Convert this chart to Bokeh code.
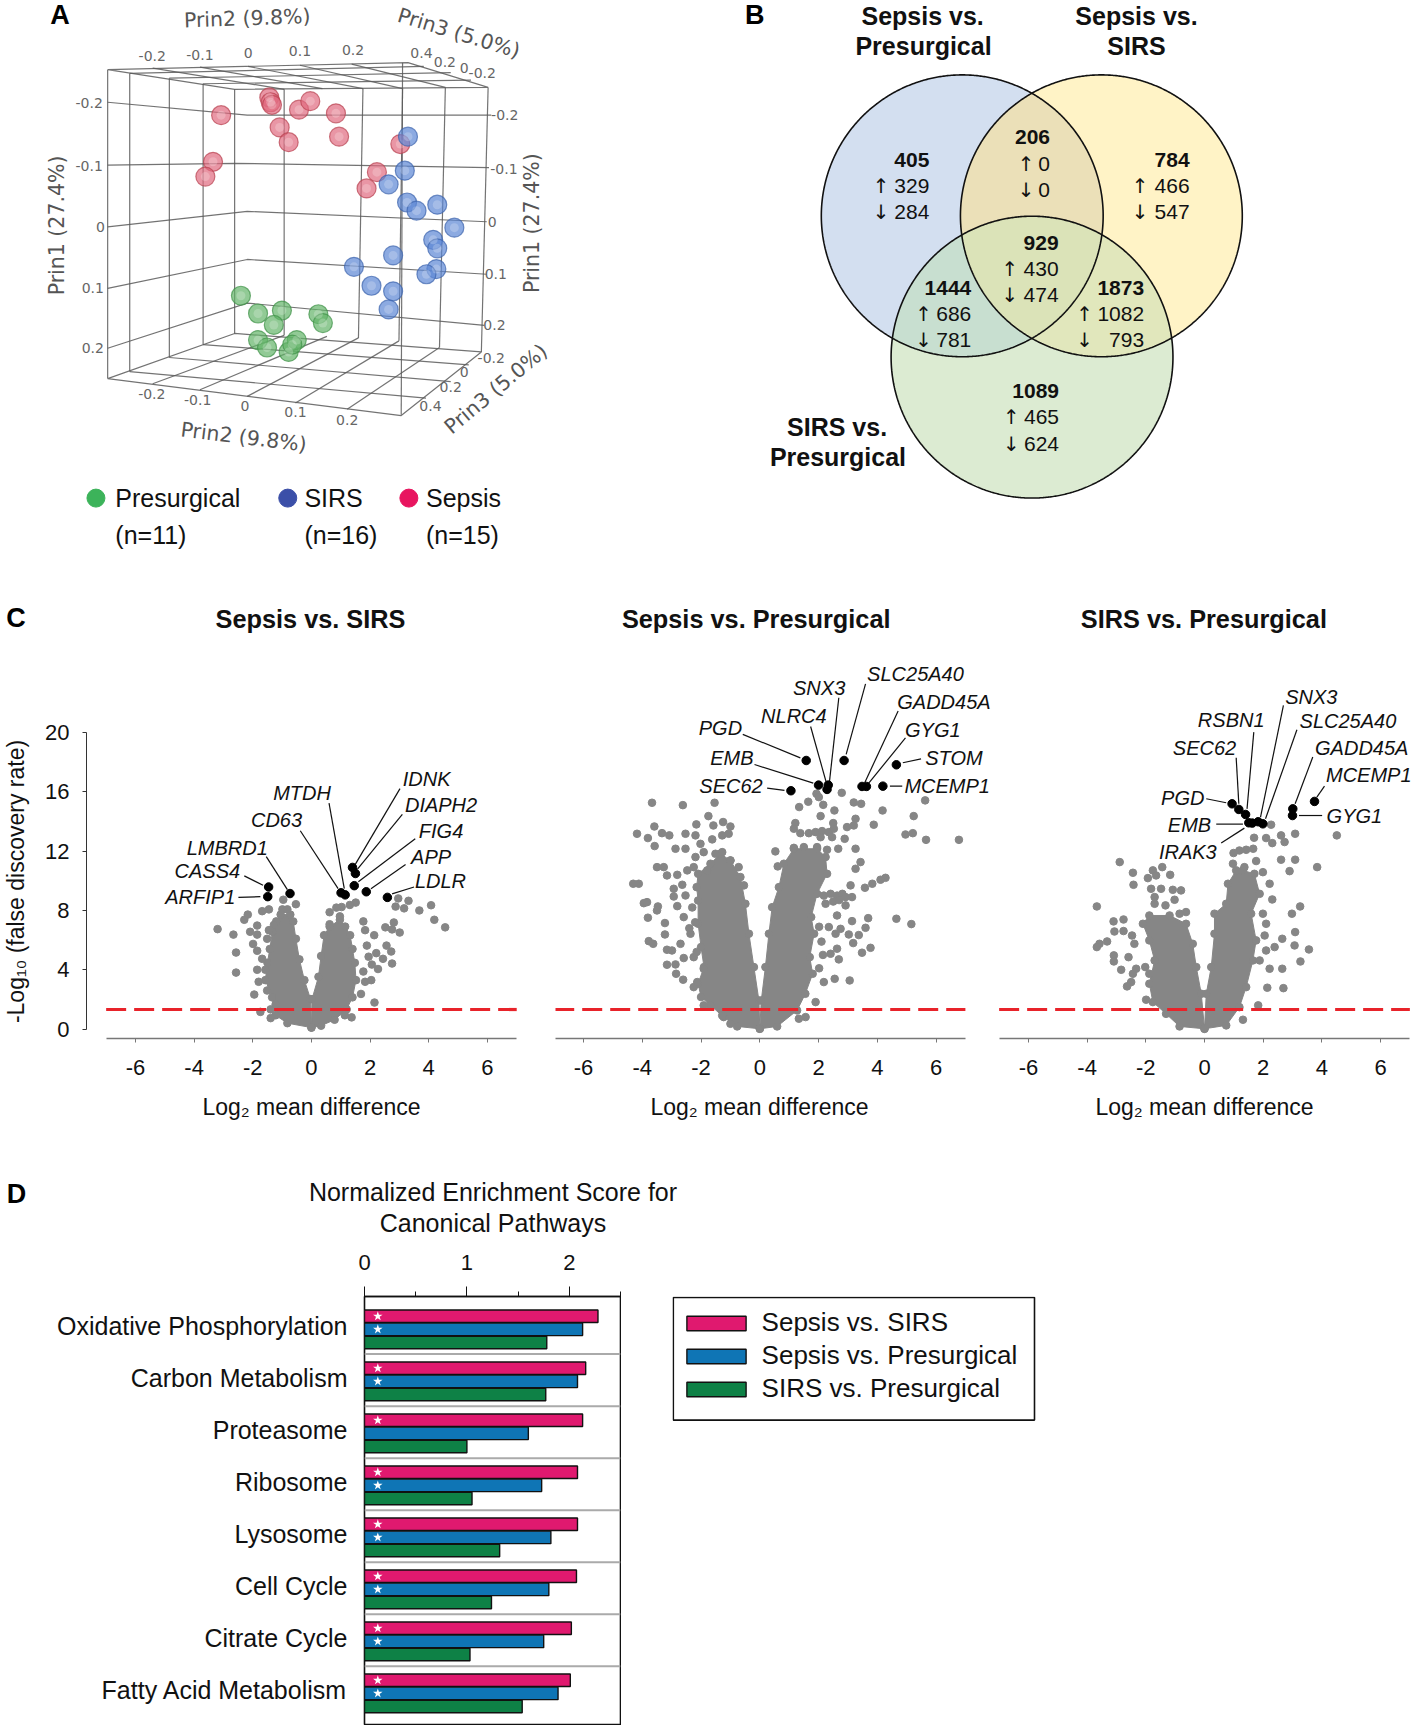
from bokeh.plotting import figure
from bokeh.layouts import column, row
from bokeh.models import Range1d, FixedTicker, Legend, LegendItem
from bokeh.core.properties import value
from bokeh.embed import file_html
from bokeh.resources import INLINE
import numpy as np

FONT = "Liberation Sans"

# ---------------- Panel A: values digitised on a 2.221 x 2.703 picture grid
sepsis_x = [490, 597, 600, 603, 663, 688, 745, 620, 640, 752, 472, 455, 836, 813, 888]
sepsis_y = [310, 262, 275, 282, 295, 272, 305, 343, 383, 368, 436, 476, 464, 508, 388]
sirs_x = [905, 898, 862, 903, 924, 970, 1008, 961, 970, 872, 785, 968, 946, 824, 872, 862]
sirs_y = [368, 460, 497, 546, 568, 552, 614, 647, 670, 689, 720, 726, 740, 771, 786, 835]
pres_x = [534, 572, 625, 607, 706, 716, 572, 592, 640, 658, 648]
pres_y = [798, 846, 838, 877, 848, 872, 918, 938, 950, 918, 930]

grid_xs = [
    [238, 905, 1083, 520, 238], [238, 238], [287, 287], [375, 375], [450, 450], [520, 520],
    [1083, 1068], [630, 630], [805, 795], [893, 885], [988, 975], [893, 890],
    [238, 890, 1068, 520, 238],
    [238, 548, 1090], [238, 520, 1085], [238, 548, 1080], [238, 548, 1080], [238, 548, 1075],
    [338, 630], [443, 715], [550, 805], [665, 893], [780, 988],
    [287, 940], [375, 1000], [450, 1045],
    [338, 630], [443, 725], [548, 795], [655, 885], [770, 975],
    [287, 945], [375, 1000], [450, 1040],
]
grid_ys = [
    [187, 168, 235, 240, 187], [187, 1022], [197, 1003], [210, 965], [225, 930], [240, 900],
    [235, 950], [240, 905], [238, 912], [238, 920], [235, 938], [168, 1120],
    [1022, 1122, 950, 900, 1022],
    [275, 310, 310], [445, 440, 452], [612, 570, 598], [778, 700, 740], [940, 818, 878],
    [183, 240], [180, 238], [178, 238], [175, 238], [172, 235],
    [197, 178], [210, 195], [225, 215],
    [1036, 905], [1052, 908], [1070, 912], [1088, 920], [1105, 938],
    [1003, 1075], [965, 1030], [930, 985],
]
tick_text = ["-0.2", "-0.1", "0", "0.1", "0.2", "0.4", "0.2", "0", "-0.2",
             "-0.2", "-0.1", "0", "0.1", "0.2",
             "-0.2", "-0.1", "0", "0.1", "0.2",
             "-0.2", "-0.1", "0", "0.1", "0.2",
             "-0.2", "0", "0.2", "0.4"]
tick_x = [337, 443, 550, 665, 783, 935, 987, 1030, 1070,
          197, 197, 222, 205, 205,
          1120, 1118, 1092, 1100, 1097,
          336, 438, 543, 655, 770,
          1090, 1030, 1000, 955]
tick_y = [150, 147, 143, 137, 133, 143, 165, 182, 197,
          277, 447, 612, 778, 940,
          310, 455, 598, 740, 878,
          1063, 1080, 1095, 1113, 1133,
          965, 1003, 1045, 1097]
prin_text = ["Prin2 (9.8%)", "Prin3 (5.0%)", "Prin1 (27.4%)", "Prin1 (27.4%)", "Prin2 (9.8%)", "Prin3 (5.0%)"]
prin_x = [548, 1018, 125, 1180, 540, 1100]
prin_y = [48, 88, 608, 602, 1180, 1050]
prin_deg = [2, -17, 90, 90, -7, 40]
group_names = ["Presurgical", "SIRS", "Sepsis"]
group_counts = ["(n=11)", "(n=16)", "(n=15)"]
group_colors = ["#3cb35a", "#3b4fa8", "#e8155f"]
group_dot_x = [212, 638, 907]
group_text_x = [255, 675, 945]

# ---------------- Panel B
venn_titles = ["Sepsis vs.", "Presurgical", "Sepsis vs.", "SIRS", "SIRS vs.", "Presurgical"]
venn_title_x = [480, 482, 955, 955, 290, 292]
venn_title_y = [42, 123, 42, 123, 1152, 1233]
venn_cx = [568, 877, 723]
venn_cy = [582, 582, 964]
venn_total = ["405", "206", "784", "929", "1444", "1873", "1089"]
venn_up = ["329", "0", "466", "430", "686", "1082", "465"]
venn_down = ["284", "0", "547", "474", "781", "793", "624"]
venn_right = [495, 763, 1073, 782, 588, 972, 783]
venn_arrow = [388, 710, 963, 674, 482, 840, 677]
venn_row = [430, 370, 430, 655, 777, 777, 1056]
venn_base_colors = ["#d3dff0", "#fff3c6", "#dcebd2"]
venn_overlaps = [((0, 1), "#ebe0b8"), ((0, 2), "#c8dfd0"), ((1, 2), "#e1e7bc"), ((0, 1, 2), "#dbe3b8")]

# ---------------- Panel C: Sepsis vs. SIRS
c1_gray_x = [2.96, 2.87, 3.16, 3.31, 3.68, 4.08, 4.19, 4.56, 2.52, 2.81, 2.75, 3.01, 2.14, 2.56, 2.72, 2.75, 2.44, 2.21,
             1.89, 1.95, 2.06, 2.27, 1.77, 1.83, 2.04, 2.15, 1.77, 1.83, 1.51, 1.31, 1.03, .85, .62, .97, .62, 1.69, 1.37, 1.14,
             -3.2, -2.66, -2.57, -2.57, -2.17, -2.29, -2.09, -1.85, -1.85, -1.99, -1.85, -1.68, -1.85, -1.57, -1.8, -1.95,
             -1.51, -1.74, -1.39, -.96, -.53, -1.68, -1.45, -.99, -.82, -1.28, -1.45, -1.51, -1.39, -1.22]
c1_gray_y = [8.81, 8.26, 8.14, 8.65, 8.0, 8.35, 7.37, 6.86, 6.86, 7.19, 6.72, 6.51, 6.33, 5.63, 5.23, 4.42, 4.74, 5.12,
             5.63, 4.88, 4.35, 4.05, 3.88, 3.19, 3.3, 1.79, 7.26, 6.67, 8.53, 8.37, 8.23, 8.19, 7.88, 7.6, 7.07, 2.37, .79, .93,
             6.74, 6.37, 5.16, 3.81, 7.72, 7.37, 6.56, 6.98, 6.37, 5.74, 5.28, 4.74, 4.0, 4.0, 3.19, 2.33,
             2.6, 1.16, .74, 8.72, 8.42, 7.95, 8.07, 8.07, 8.07, 7.02, 6.67, 6.09, 1.33, 1.67]
c1_left_x = [0, -.82, -1.22, -1.34, -1.57, -1.5, -1.42, -1.33, -1.2, -1.05, -.72, -.62, -.53, -.41, -.24, -.03]
c1_left_y = [.1, .4, .93, 2.14, 3.3, 4.47, 5.4, 6.56, 7.26, 7.72, 7.72, 7.26, 6.09, 4.7, 3.3, 2.02]
c1_right_x = [.02, .24, .33, .43, .62, .97, 1.15, 1.32, 1.4, 1.48, 1.52, 1.4, 1.2, .79, .33, 0]
c1_right_y = [2.02, 3.53, 4.93, 6.33, 6.91, 7.37, 6.91, 6.33, 5.4, 4.47, 3.3, 2.14, 1.33, .63, .23, .1]
c1_genes = ["ARFIP1", "CASS4", "LMBRD1", "CD63", "MTDH", "IDNK", "DIAPH2", "FIG4", "APP", "LDLR"]
c1_gene_x = [-1.49, -1.46, -.73, 1.01, 1.15, 1.40, 1.5, 1.46, 1.87, 2.59]
c1_gene_y = [8.93, 9.58, 9.14, 9.19, 9.05, 10.9, 10.49, 9.67, 9.26, 8.88]
c1_label_x = [-3.79, -3.55, -2.87, -1.19, -.32, 3.93, 4.42, 4.42, 4.08, 4.4]
c1_label_y = [8.93, 10.63, 12.23, 14.09, 15.93, 16.84, 15.12, 13.37, 11.63, 10.0]
c1_lead_x0 = [-2.49, -2.29, -1.54, -.38, .6, 3.02, 3.1, 3.54, 3.21, 3.5]
c1_lead_y0 = [8.88, 10.33, 11.63, 13.37, 15.23, 16.21, 14.47, 12.84, 11.09, 9.58]
c1_lead_x1 = [-1.74, -1.65, -.82, .91, 1.12, 1.49, 1.57, 1.6, 2.03, 2.75]
c1_lead_y1 = [8.93, 9.7, 9.4, 9.47, 9.47, 11.09, 10.79, 9.93, 9.47, 9.12]

# ---------------- Panel C: Sepsis vs. Presurgical
c2_gray_x = [2.79, 1.93, 2.01, 2.16, 1.65, 1.34, 2.54, 2.07, 3.2, 3.45, 4.18, 5.63, 5.24, 3.88, 3.26, 3.2, 2.97, 2.5, 1.21,
             4.96, 5.21, 5.66, 6.78, 2.89, 3.26, 2.67, 3.43, 3.26, 4.28, 4.11, 3.83, 3.58, .53, .61, 3.09, 3.14, 2.92, 3.69,
             4.65, 5.16, 3.14, 3.6, 3.37, 3.03, 2.75, 3.18, 3.77, 3.48, 2.63, 2.41, 2.69, 3.06, 2.55, 2.18, 1.9, 1.56, 1.33,
             2.63, 2.35, 2.58, 1.16, 1.38, 1.67, 1.9, 2.12, 2.35, 2.52, 2.46, 2.07, 1.16, 1.5, 1.95, 2.29,
             2.41, 2.63, 2.81, 2.92, 2.5, 2.7, 2.18, 2.24, 2.02, 2.1, 2.15, 2.02,
             -3.67, -2.62, -1.54, -1.75, -3.59, -1.58, -2.16, -1.25, -1.0, -1.06, -1.28, -1.62, -4.18, -3.81, -3.33, -3.08,
             -2.53, -3.58, -2.87, -2.53, -2.19, -2.02, -1.91, -2.19, -3.5, -3.27, -3.16, -2.81, -4.31, -4.12, -2.93, -2.93,
             -2.64, -2.53, -3.95, -3.84, -3.47, -3.5, -3.81, -3.23, -3.23, -2.81, -2.59, -3.78, -3.63, -3.16, -2.99, -3.16,
             -2.87, -2.59, -2.85, -2.61, -2.7, -2.36, -2.25, -1.91, -2.25, -2.13, -1.91, -1.28, -1.0, -2.47, -2.25, -1.79,
             -1.51, -1.28, -1.0, -.72, -.54, -2.3, -2.2, -2.4, -2.15]
c2_gray_y = [15.93, 15.87, 15.64, 15.12, 15.33, 14.97, 14.74, 14.36, 15.28, 15.19, 14.74, 15.42, 14.36, 13.78, 14.18, 13.73, 13.62, 13.89, 13.89,
             13.12, 13.21, 12.76, 12.76, 12.83, 12.16, 12.16, 11.26, 10.81, 10.2, 10.07, 9.8, 9.53, 11.98, 10.97, 9.69, 8.9, 8.34, 7.48,
             7.44, 7.08, 7.28, 6.83, 6.34, 6.38, 6.76, 5.8, 5.48, 5.15, 5.42, 5.08, 4.7, 3.28, 3.39, 3.17, 1.82, .81, .7,
             7.66, 6.88, 6.43, 13.51, 13.21, 13.21, 13.28, 13.35, 13.28, 13.51, 12.94, 12.94, 12.22, 12.27, 12.27, 12.09,
             9.12, 9.0, 9.12, 8.9, 8.6, 8.7, 9.0, 8.45, 6.9, 5.9, 5.0, 4.1,
             15.26, 15.1, 15.26, 14.36, 13.66, 13.73, 13.8, 13.96, 13.66, 13.17, 13.06, 12.79, 13.17, 12.88, 13.21, 13.06,
             13.17, 12.34, 12.16, 12.16, 13.06, 12.49, 11.93, 11.6, 10.92, 10.92, 10.36, 10.4, 9.8, 9.8, 9.46, 8.94,
             9.73, 9.01, 8.49, 8.56, 8.27, 8.0, 7.51, 7.15, 6.38, 8.29, 7.55, 5.93, 5.75, 5.35, 5.3, 4.34,
             4.36, 4.79, 3.73, 3.33, 5.75, 6.43, 4.85, 4.07, 2.83, 3.17, 1.6, .92, .36, 10.7, 10.92, 10.7,
             11.82, 11.93, 11.37, 10.92, 9.69, 8.2, 7.2, 6.8, 5.2]
c2_left_x = [0, -.77, -1.23, -1.68, -2.0, -2.1, -1.9, -2.0, -2.1, -2.1, -2.15, -2.1, -1.68, -1.34, -1.0, -.66, -.49, -.37, -.2, -.03]
c2_left_y = [.02, .18, .81, 1.6, 2.16, 3.06, 4.18, 5.53, 7.1, 8.67, 9.57, 10.47, 11.15, 11.82, 11.37, 10.25, 8.45, 6.43, 4.18, 1.93]
c2_right_x = [.05, .19, .31, .42, .65, .82, 1.16, 1.95, 2.24, 2.29, 1.95, 1.75, 1.85, 1.7, 1.8, 1.55, 1.27, .59, 0]
c2_right_y = [1.93, 4.18, 6.43, 8.22, 9.57, 11.15, 12.16, 12.16, 11.6, 10.47, 9.12, 7.55, 6.43, 4.85, 3.73, 2.38, 1.26, .18, .02]
c2_genes = ["PGD", "SLC25A40", "STOM", "EMB", "SNX3", "NLRC4", "GADD45A", "GYG1", "MCEMP1", "SEC62"]
c2_gene_x = [1.58, 2.87, 4.65, 2.0, 2.33, 2.29, 3.48, 3.63, 4.19, 1.06]
c2_gene_y = [18.11, 18.11, 17.82, 16.45, 16.45, 16.16, 16.36, 16.36, 16.38, 16.07]
c2_label_x = [-1.34, 5.3, 6.61, -.95, 2.02, 1.16, 6.27, 5.89, 6.38, -.98]
c2_label_y = [20.29, 23.91, 18.29, 18.29, 23.01, 21.08, 22.02, 20.18, 16.36, 16.36]
c2_lead_x0 = [-.58, 3.6, 5.49, -.18, 2.69, 1.73, 4.71, 4.96, 4.85, .25]
c2_lead_y0 = [19.87, 23.28, 18.22, 17.84, 22.34, 20.4, 21.44, 19.64, 16.38, 16.25]
c2_lead_x1 = [1.38, 2.94, 4.87, 1.82, 2.37, 2.26, 3.58, 3.71, 4.43, .84]
c2_lead_y1 = [18.29, 18.52, 17.96, 16.58, 16.65, 16.65, 16.65, 16.58, 16.38, 16.09]

# ---------------- Panel C: SIRS vs. Presurgical
c3_gray_x = [2.27, 3.09, 4.51, 2.61, 2.73, 2.1, 2.31, 1.69, 2.61, 3.09, 2.9, 3.84, 1.66, 1.42, 1.19, .99, 1.76, .97, 1.36,
             1.99, 2.22, 2.31, 3.26, 2.98, 3.09, 2.65, 3.07, 3.56, 2.39, 3.27, 2.65, 2.14, 2.69, 1.83, 1.31, 2.22, 2.1, 2.05,
             1.99, 2.1, 1.88,
             -2.89, -2.44, -2.42, -1.44, -1.76, -1.93, -1.65, -1.17, -1.82, -1.48, -1.08, -.8, -1.7, -1.02, -1.7, -1.33,
             -3.67, -3.1, -2.76, -3.07, -2.76, -3.32, -3.58, -3.67, -3.09, -3.09, -2.59, -2.84, -2.47, -2.39, -2.02, -2.33,
             -2.44, -2.5, -2.64, -1.88, -1.99, -.63, -.85]
c3_gray_y = [13.78, 13.17, 13.06, 13.06, 12.61, 12.88, 12.54, 12.9, 11.42, 11.42, 10.65, 10.92, 12.16, 12.09, 12.04, 11.87, 11.33, 11.15, 10.92,
             10.58, 9.8, 8.74, 8.27, 7.78, 6.54, 6.09, 5.64, 5.37, 5.53, 4.56, 4.07, 2.79, 2.76, 1.6, .63, 4.07, 7.1, 6.31,
             7.78, 5.3, 4.63,
             11.26, 10.54, 9.73, 10.92, 10.7, 10.18, 10.36, 10.4, 9.46, 9.46, 9.39, 9.35, 8.9, 8.72, 8.45, 8.34,
             8.27, 7.26, 7.39, 6.58, 6.61, 5.91, 5.75, 5.53, 4.97, 4.56, 4.85, 4.0, 6.31, 5.75, 4.18, 4.07,
             3.73, 3.17, 2.88, 3.73, 1.98, 7.89, 7.78]
c3_left_x = [0, -.85, -1.31, -1.76, -1.88, -1.7, -1.88, -2.1, -1.88, -1.19, -.63, -.4, -.28, -.11]
c3_left_y = [.02, .18, 1.03, 1.82, 3.06, 4.63, 5.98, 7.1, 7.66, 7.66, 7.1, 5.75, 4.18, 2.38]
c3_right_x = [.06, .23, .34, .34, .74, .8, 1.08, 1.31, 1.7, 1.88, 1.59, 1.76, 1.65, 1.42, 1.19, .74, 0]
c3_right_y = [2.38, 4.18, 6.43, 7.78, 8.45, 9.8, 10.7, 10.7, 10.47, 9.12, 7.78, 5.98, 4.63, 2.83, 1.48, .25, .02]
c3_genes = ["PGD", "SEC62", "RSBN1", "EMB", "IRAK3", "SNX3", "SLC25A40", "GADD45A", "GYG1", "MCEMP1"]
c3_gene_x = [.94, 1.17, 1.4, 1.51, 1.63, 1.83, 1.99, 3.01, 3.0, 3.75]
c3_gene_y = [15.19, 14.81, 14.47, 13.91, 13.89, 13.98, 13.84, 14.85, 14.4, 15.35]
c3_label_x = [-.74, 0, .91, -.51, -.57, 3.64, 4.89, 5.36, 5.11, 5.6]
c3_label_y = [15.6, 18.97, 20.81, 13.78, 11.93, 22.38, 20.76, 18.97, 14.34, 17.1]
c3_lead_x0 = [.06, 1.08, 1.68, .4, .57, 2.69, 3.15, 3.69, 4.01, 4.09]
c3_lead_y0 = [15.53, 18.29, 20.02, 13.82, 12.54, 21.82, 20.18, 18.34, 14.4, 16.38]
c3_lead_x1 = [.74, 1.17, 1.45, 1.31, 1.36, 1.91, 2.08, 3.09, 3.22, 3.83]
c3_lead_y1 = [15.26, 15.19, 14.85, 13.82, 13.55, 14.29, 14.18, 15.19, 14.4, 15.64]

volcano_titles = ["Sepsis vs. SIRS", "Sepsis vs. Presurgical", "SIRS vs. Presurgical"]
volcano_xlabel = "Log₂ mean difference"
volcano_ylabel = "-Log₁₀ (false discovery rate)"
volcano_x_ticks = [-6, -4, -2, 0, 2, 4, 6]
volcano_y_ticks = [0, 4, 8, 12, 16, 20]

# ---------------- Panel D
pathways = ["Oxidative Phosphorylation", "Carbon Metabolism", "Proteasome", "Ribosome",
            "Lysosome", "Cell Cycle", "Citrate Cycle", "Fatty Acid Metabolism"]
nes_sepsis_sirs = [2.28, 2.16, 2.13, 2.08, 2.08, 2.07, 2.02, 2.01]
nes_sepsis_pres = [2.13, 2.08, 1.60, 1.73, 1.82, 1.80, 1.75, 1.89]
nes_sirs_pres = [1.78, 1.77, 1.0, 1.05, 1.32, 1.24, 1.03, 1.54]
star_sepsis_sirs = [1, 1, 1, 1, 1, 1, 1, 1]
star_sepsis_pres = [1, 1, 0, 1, 1, 1, 1, 1]
d_title = ["Normalized Enrichment Score for", "Canonical Pathways"]
d_series = ["Sepsis vs. SIRS", "Sepsis vs. Presurgical", "SIRS vs. Presurgical"]
d_colors = ["#e0196f", "#0f75b5", "#0e8146"]


def bare(fig):
    fig.outline_line_color = None
    fig.grid.visible = False
    fig.background_fill_color = "white"
    fig.border_fill_color = "white"
    return fig


ZX, ZY = 2.221, 2.703


def canvas_fig(x0, x1, y0, y1, kx=1.0, ky=1.0, shift_x=0):
    return bare(figure(width=x1 - x0, height=y1 - y0, output_backend="svg", toolbar_location=None,
                       x_range=Range1d((x0 - shift_x) * kx, (x1 - shift_x) * kx),
                       y_range=Range1d(y1 * ky, y0 * ky),
                       x_axis_type=None, y_axis_type=None, min_border=0))


def txt(p, xs, ys, labels, size, color="#111111", align="center", style="normal", font=FONT, angle=0):
    p.text(x=xs, y=ys, text=labels, text_font=value(font), text_font_size=size, text_color=color,
           text_align=align, text_baseline="middle", text_font_style=style, angle=angle)


# ---- A
pa = canvas_fig(0, 706, 0, 578, ZX, ZY)
pa.multi_line(grid_xs, grid_ys, line_color="#5a5a5a", line_width=1.2, line_alpha=0.85)
for xs, ys, fill, edge in [(sepsis_x, sepsis_y, "#e0697f", "#b8404f"),
                           (sirs_x, sirs_y, "#5b86d4", "#3a62ad"),
                           (pres_x, pres_y, "#62b368", "#3f9147")]:
    pa.scatter(xs, ys, size=19, fill_color=fill, fill_alpha=0.7, line_color=edge, line_alpha=0.7, line_width=1.2)
    pa.scatter(xs, ys, size=9, fill_color="white", fill_alpha=0.22, line_color=None)
txt(pa, tick_x, tick_y, tick_text, "14px", color="#666666", font="DejaVu Sans")
for t, x, y, d in zip(prin_text, prin_x, prin_y, prin_deg):
    txt(pa, [x], [y], [t], "20.5px", color="#555555", font="DejaVu Sans", angle=np.deg2rad(d))
pa.scatter(group_dot_x, [1345] * 3, size=18, color=group_colors)
txt(pa, group_text_x, [1345] * 3, group_names, "25px", align="left")
txt(pa, group_text_x, [1445] * 3, group_counts, "25px", align="left")
txt(pa, [132], [40], ["A"], "27px", style="bold", color="black")

# ---- B
pb = canvas_fig(706, 1412, 0, 578, ZX, ZY, shift_x=706)
R = 313.0
Ry = R * ZY / ZX
theta = np.linspace(0, 2 * np.pi, 721)


def boundary(i):
    return venn_cx[i] + R * np.cos(theta), venn_cy[i] + Ry * np.sin(theta)


def inside(x, y, i):
    return ((x - venn_cx[i]) / R) ** 2 + ((y - venn_cy[i]) / Ry) ** 2 <= 1.0 + 1e-9


for i, c in enumerate(venn_base_colors):
    bx, by = boundary(i)
    pb.patch(bx, by, fill_color=c, line_color=None)
for members, c in venn_overlaps:
    xs, ys = [], []
    for i in members:
        bx, by = boundary(i)
        keep = np.all([inside(bx, by, j) for j in members if j != i], axis=0)
        xs.append(bx[keep])
        ys.append(by[keep])
    xs, ys = np.concatenate(xs), np.concatenate(ys)
    order = np.argsort(np.arctan2((ys - ys.mean()) / Ry, (xs - xs.mean()) / R))
    pb.patch(xs[order], ys[order], fill_color=c, line_color=None)
for i in range(3):
    bx, by = boundary(i)
    pb.line(bx, by, line_color="#111111", line_width=1.6)
txt(pb, venn_title_x, venn_title_y, venn_titles, "25px", style="bold")
txt(pb, venn_right, venn_row, venn_total, "21px", style="bold", align="right")
txt(pb, venn_right, [y + 71 for y in venn_row], venn_up, "21px", align="right")
txt(pb, venn_right, [y + 142 for y in venn_row], venn_down, "21px", align="right")
txt(pb, venn_arrow, [y + 71 for y in venn_row], ["↑"] * 7, "20px", font="DejaVu Sans")
txt(pb, venn_arrow, [y + 142 for y in venn_row], ["↓"] * 7, "20px", font="DejaVu Sans")
txt(pb, [107], [40], ["B"], "27px", style="bold", color="black")

# ---- C header, footer and side strip
c_head = canvas_fig(0, 1412, 578, 640)
txt(c_head, [15.5], [617], ["C"], "27px", style="bold", color="black")
txt(c_head, [310, 755.7, 1203.4], [618] * 3, volcano_titles, "25.3px", style="bold")
# the row shares its bottom border with the volcano figures, whose frame ends at y=1038
c_strip = canvas_fig(0, 40, 640, 1085)
c_strip.y_range = Range1d(1038, 640)
c_strip.min_border_bottom = 47
txt(c_strip, [15], [881], [volcano_ylabel], "23px", angle=np.pi / 2)
c_foot = canvas_fig(0, 1412, 1085, 1166)
txt(c_foot, [311, 759, 1204], [1106] * 3, [volcano_xlabel] * 3, "23px")


def volcano(width, left, right, xr, gx, gy, lx, ly, rx, ry,
            genes, hx, hy, lbx, lby, x0, y0, x1, y1, first=False):
    p = bare(figure(width=width, height=445, output_backend="svg", toolbar_location=None,
                    x_range=Range1d(*xr), y_range=Range1d(-0.634, 26.2),
                    min_border_left=left, min_border_right=right, min_border_top=0, min_border_bottom=47))
    gray = "#868686"
    p.patch(lx, ly, color=gray)
    p.patch(rx, ry, color=gray)
    p.scatter(lx + rx + gx, ly + ry + gy, size=7.6, color=gray)
    p.segment(-7, 1.32, 7, 1.32, line_color="#e8232a", line_width=3.2, line_dash="20 8")
    p.segment(x0, y0, x1, y1, line_color="#111111", line_width=1.2)
    p.scatter(hx, hy, size=8.5, color="black")
    txt(p, lbx, lby, genes, "20px", style="italic")
    ax = p.xaxis[0]
    ax.ticker = FixedTicker(ticks=volcano_x_ticks)
    ax.major_label_overrides = {t: str(t) for t in volcano_x_ticks}
    ax.bounds = (-7, 7)
    ax.axis_line_color = "#777777"
    ax.axis_line_width = 1.5
    ax.major_tick_line_color = "#777777"
    ax.major_tick_in = 0
    ax.major_tick_out = 4
    ax.minor_tick_line_color = None
    ax.major_label_standoff = 17
    ax.major_label_text_font = FONT
    ax.major_label_text_font_size = "22px"
    ax.major_label_text_color = "#111111"
    ay = p.yaxis[0]
    if first:
        ay.ticker = FixedTicker(ticks=volcano_y_ticks)
        ay.bounds = (0, 20)
        ay.axis_line_color = "#333333"
        ay.major_tick_line_color = "#333333"
        ay.major_tick_in = 0
        ay.major_tick_out = 4
        ay.minor_tick_line_color = None
        ay.major_label_standoff = 13
        ay.major_label_text_font = FONT
        ay.major_label_text_font_size = "22px"
        ay.major_label_text_color = "#111111"
    else:
        ay.visible = False
    return p


c1 = volcano(490, 46, 0, (-7.67, 7.47), c1_gray_x, c1_gray_y, c1_left_x, c1_left_y,
             c1_right_x, c1_right_y, c1_genes, c1_gene_x, c1_gene_y, c1_label_x, c1_label_y,
             c1_lead_x0, c1_lead_y0, c1_lead_x1, c1_lead_y1, first=True)
c2 = volcano(466, 25, 1, (-6.956, 8.025), c2_gray_x, c2_gray_y, c2_left_x, c2_left_y,
             c2_right_x, c2_right_y, c2_genes, c2_gene_x, c2_gene_y, c2_label_x, c2_label_y,
             c2_lead_x0, c2_lead_y0, c2_lead_x1, c2_lead_y1)
c3 = volcano(416, 0, 0, (-7.09, 7.09), c3_gray_x, c3_gray_y, c3_left_x, c3_left_y,
             c3_right_x, c3_right_y, c3_genes, c3_gene_x, c3_gene_y, c3_label_x, c3_label_y,
             c3_lead_x0, c3_lead_y0, c3_lead_x1, c3_lead_y1)

# ---- D header
d_head = canvas_fig(0, 1412, 1166, 1240)
txt(d_head, [16], [1193], ["D"], "27px", style="bold", color="black")
txt(d_head, [492.5, 492.5], [1191.5, 1222], d_title, "25px")

# ---- D chart
pd_ = bare(figure(width=621, height=485, output_backend="svg", toolbar_location=None,
                  x_range=Range1d(0, 2.5), y_range=Range1d(7.598, -0.632), x_axis_location="above",
                  min_border_left=364, min_border_top=56, min_border_bottom=1, min_border_right=1))
pd_.outline_line_color = "#111111"
pd_.outline_line_width = 1.6
idx = np.arange(len(pathways))
pd_.segment(0, idx[:-1] + 0.476, 2.5, idx[:-1] + 0.476, line_color="#aaaaaa", line_width=2)
h = 0.24
pd_.hbar(y=idx - 0.252, right=nes_sepsis_sirs, left=0, height=h, fill_color=d_colors[0], line_color="#111111", line_width=1.4)
pd_.hbar(y=idx, right=nes_sepsis_pres, left=0, height=h, fill_color=d_colors[1], line_color="#111111", line_width=1.4)
pd_.hbar(y=idx + 0.252, right=nes_sirs_pres, left=0, height=h, fill_color=d_colors[2], line_color="#111111", line_width=1.4)
s1 = np.array(star_sepsis_sirs, dtype=bool)
s2 = np.array(star_sepsis_pres, dtype=bool)
pd_.scatter(np.full(s1.sum(), 0.13), (idx - 0.252)[s1], marker="star", size=10, color="white", line_color=None)
pd_.scatter(np.full(s2.sum(), 0.13), idx[s2], marker="star", size=10, color="white", line_color=None)
ax = pd_.xaxis[0]
ax.ticker = FixedTicker(ticks=[0, 1, 2], minor_ticks=[0.5, 1.5, 2.5])
ax.major_tick_in = 0
ax.major_tick_out = 10
ax.minor_tick_in = 0
ax.minor_tick_out = 5
ax.axis_line_color = "#111111"
ax.axis_line_width = 1.6
ax.major_tick_line_color = "#111111"
ax.minor_tick_line_color = "#111111"
ax.major_label_standoff = 17
ax.major_label_text_font = FONT
ax.major_label_text_font_size = "22px"
ax.major_label_text_color = "#111111"
ay = pd_.yaxis[0]
label_pos = [float(i) - 0.0625 for i in idx]
ay.ticker = FixedTicker(ticks=label_pos)
ay.major_label_overrides = {t: n for t, n in zip(label_pos, pathways)}
ay.major_tick_line_color = None
ay.minor_tick_line_color = None
ay.axis_line_color = None
ay.major_label_standoff = 11
ay.major_label_text_font = FONT
ay.major_label_text_font_size = "25px"
ay.major_label_text_color = "#111111"

# ---- D legend, in its own figure: the view is kept in page pixels, the box is a quad,
# and the hidden series only provide the legend keys
pl = bare(figure(width=791, height=485, output_backend="svg", toolbar_location=None,
                 x_range=Range1d(672, 1402), y_range=Range1d(1724, 1296), x_axis_type=None, y_axis_type=None,
                 min_border_left=51, min_border_right=10, min_border_top=56, min_border_bottom=1))
pl.quad(left=[672.8], right=[1034], top=[1297], bottom=[1419.6], fill_color=None, line_color="#111111", line_width=1.6)
items = []
for name, col, vals, off in zip(d_series, d_colors, [nes_sepsis_sirs, nes_sepsis_pres, nes_sirs_pres], [-0.252, 0, 0.252]):
    r = pl.hbar(y=idx + off, right=vals, left=0, height=h, fill_color=col, line_color="#111111", line_width=1.4, visible=False)
    items.append(LegendItem(label=name, renderers=[r]))
pl.add_layout(Legend(items=items, location=(6.6, 320), margin=0, padding=0, spacing=2, glyph_width=74,
                     glyph_height=18, label_standoff=9, label_text_font=FONT, label_text_font_size="26px",
                     label_text_color="#111111", border_line_color=None, background_fill_alpha=0))

page = column(row(pa, pb, spacing=0), c_head, row(c_strip, c1, c2, c3, spacing=0), c_foot, d_head,
              row(pd_, pl, spacing=0), spacing=0)
open("out.html", "w").write(file_html(page, INLINE))
